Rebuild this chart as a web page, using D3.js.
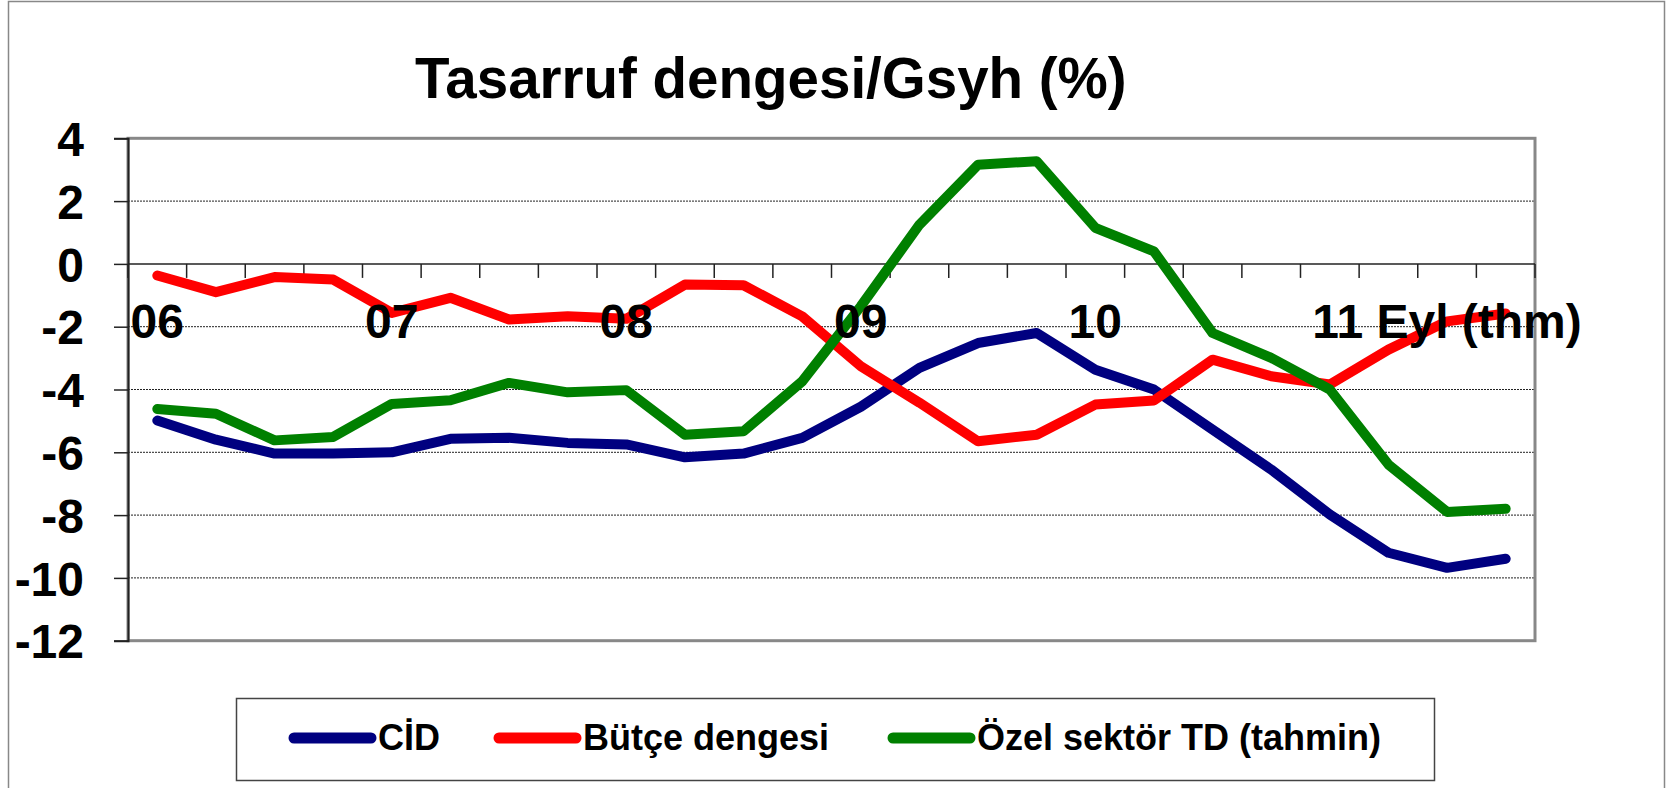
<!DOCTYPE html>
<html>
<head>
<meta charset="utf-8">
<script src="https://cdn.jsdelivr.net/npm/d3@7"></script>
<style>
  body { margin: 0; background: #fff; }
  text { font-family: "Liberation Sans", Arial, sans-serif; font-weight: bold; fill: #000; }
</style>
</head>
<body>
<div id="chart"></div>
<script>
// quarterly points, 2006 Q1 .. 2011 Q4
var catLabels = ['06','','','','07','','','','08','','','','09','','','','10','','','','','','11 Eyl (thm)','']

var cid   = [-4.99,-5.6,-6.04,-6.04,-6.0,-5.57,-5.54,-5.7,-5.75,-6.16,-6.04,-5.54,-4.55,-3.31,-2.52,-2.2,-3.37,-4.0,-5.28,-6.55,-7.98,-9.2,-9.68,-9.39]
var butce = [-0.37,-0.9,-0.42,-0.5,-1.56,-1.08,-1.77,-1.67,-1.75,-0.66,-0.68,-1.67,-3.26,-4.42,-5.65,-5.44,-4.48,-4.35,-3.05,-3.58,-3.84,-2.73,-1.83,-1.58]
var ozel  = [-4.62,-4.77,-5.62,-5.51,-4.46,-4.34,-3.79,-4.09,-4.02,-5.44,-5.33,-3.74,-1.35,1.25,3.16,3.27,1.15,0.4,-2.2,-2.99,-4.0,-6.39,-7.9,-7.8]

var seriesNames  = ['CİD', 'Bütçe dengesi', 'Özel sektör TD (tahmin)']
var seriesColors = ['#000080', '#ff0000', '#008000']
var yTicks = [4, 2, 0, -2, -4, -6, -8, -10, -12]

var W = 1668, H = 788
var plot = {left: 128, right: 1535, top: 138.3, bottom: 640.7}

var svg = d3.select('#chart').append('svg').attr('width', W).attr('height', H)

// outer chart border
svg.append('path')
  .attr('d', 'M8.5,' + H + ' V1.5 H1664.5 V' + H)
  .attr('fill', 'none').attr('stroke', '#888').attr('stroke-width', 1.5)

svg.append('text')
  .attr('x', 415).attr('y', 98)
  .style('font-size', '56.5px')
  .text('Tasarruf dengesi/Gsyh (%)')

var x = d3.scaleBand().domain(d3.range(catLabels.length)).range([plot.left, plot.right]).padding(0)
var y = d3.scaleLinear().domain([-12, 4]).range([plot.bottom, plot.top])

// gridlines
svg.append('g').selectAll('line')
  .data(yTicks.filter(d => d != 0 && d != 4 && d != -12))
  .join('line')
  .attr('x1', plot.left).attr('x2', plot.right)
  .attr('y1', d => y(d)).attr('y2', d => y(d))
  .attr('stroke', '#222').attr('stroke-width', 1).attr('stroke-dasharray', '2,1')

// plot frame
svg.append('rect')
  .attr('x', plot.left).attr('y', plot.top)
  .attr('width', plot.right - plot.left).attr('height', plot.bottom - plot.top)
  .attr('fill', 'none').attr('stroke', '#888').attr('stroke-width', 3)

// y axis
var yAxis = svg.append('g')
  .attr('transform', 'translate(' + plot.left + ',0)')
  .call(d3.axisLeft(y).tickValues(yTicks).tickSize(14).tickPadding(30).tickFormat(d => String(d)))
yAxis.select('.domain').attr('stroke', '#222').attr('stroke-width', 2)
yAxis.selectAll('.tick line').attr('stroke', '#222').attr('stroke-width', 1.5)
yAxis.selectAll('text').attr('dy', '0.36em').attr('fill', '#000')
  .style('font-size', '48px')
  .style('font-family', '"Liberation Sans", Arial, sans-serif').style('font-weight', 'bold')

// zero line with category ticks at boundaries
svg.append('line')
  .attr('x1', plot.left).attr('x2', plot.right).attr('y1', y(0)).attr('y2', y(0))
  .attr('stroke', '#222').attr('stroke-width', 1.5)
svg.append('g').selectAll('line')
  .data(d3.range(catLabels.length + 1))
  .join('line')
  .attr('x1', d => plot.left + d * x.step()).attr('x2', d => plot.left + d * x.step())
  .attr('y1', y(0)).attr('y2', y(0) + 14)
  .attr('stroke', '#222').attr('stroke-width', 1.5)

// series
var line = d3.line().x((d, i) => x(i) + x.bandwidth() / 2).y(d => y(d))
svg.append('g').selectAll('path')
  .data([cid, butce, ozel])
  .join('path')
  .attr('d', line)
  .attr('fill', 'none')
  .attr('stroke', (d, i) => seriesColors[i])
  .attr('stroke-width', 10)
  .attr('stroke-linejoin', 'round')
  .attr('stroke-linecap', 'round')

// category labels drawn on top of the lines
svg.append('g').selectAll('text')
  .data(catLabels.map((d, i) => ({d, i})).filter(o => o.d))
  .join('text')
  .attr('x', o => x(o.i) + x.bandwidth() / 2)
  .attr('y', 338)
  .attr('text-anchor', 'middle')
  .style('font-size', '48px')
  .text(o => o.d)

// legend
var legend = svg.append('g')
legend.append('rect')
  .attr('x', 236.5).attr('y', 698.5).attr('width', 1198).attr('height', 82)
  .attr('fill', '#fff').attr('stroke', '#444').attr('stroke-width', 1.5)

var legX = [289, 494, 888]
var item = legend.selectAll('g.item')
  .data(seriesNames)
  .join('g')
  .attr('class', 'item')
  .attr('transform', (d, i) => 'translate(' + legX[i] + ',0)')
item.append('line')
  .attr('x1', 5).attr('x2', 82).attr('y1', 738).attr('y2', 738)
  .attr('stroke', (d, i) => seriesColors[i])
  .attr('stroke-width', 11).attr('stroke-linecap', 'round')
item.append('text')
  .attr('x', 89).attr('y', 750)
  .style('font-size', '36px')
  .text(d => d)
</script>
</body>
</html>
